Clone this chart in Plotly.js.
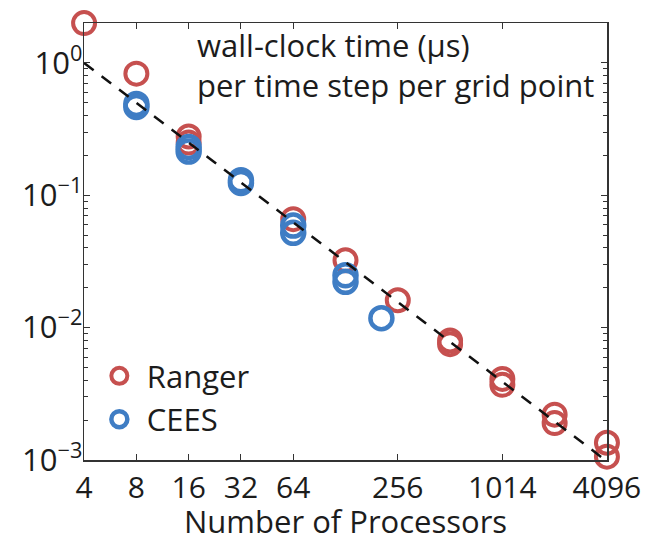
<!DOCTYPE html>
<html>
<head>
<meta charset="utf-8">
<script src="https://cdn.plot.ly/plotly-3.0.1.min.js"></script>
<style>
  html, body { margin: 0; padding: 0; background: #fff; }
  #chart { width: 649px; height: 535px; }
</style>
</head>
<body>
<div id="chart"></div>
<script>
// Strong-scaling timings: wall-clock time per time step per grid point
const rangerProcs = [4, 8, 16, 16, 64, 128, 256, 512, 512, 1024, 1024, 2048, 2048, 4096, 4096];
const rangerTime  = [2.0, 0.83, 0.278, 0.25, 0.066, 0.0323, 0.0161, 0.0080, 0.0075, 0.0041, 0.0037, 0.0022, 0.0019, 0.00135, 0.00106];

const ceesProcs = [8, 8, 16, 16, 32, 32, 64, 64, 128, 128, 206];
const ceesTime  = [0.49, 0.465, 0.232, 0.214, 0.13, 0.124, 0.059, 0.052, 0.0249, 0.0222, 0.0118];

// Ideal linear scaling reference
const idealProcs = [4, 4096];
const idealTime  = [1.0, 0.000977];

const xTickVals = [4, 8, 16, 32, 64, 256, 1024, 4096];
const xTickText = ['4', '8', '16', '32', '64', '256', '1014', '4096'];
const xPlainTicks = [128, 512, 2048];
const yTickVals = [0.001, 0.01, 0.1, 1];
const yTickText = ['10<sup>\u22123</sup>', '10<sup>\u22122</sup>', '10<sup>\u22121</sup>', '10<sup>0</sup>'];

const RED = '#C6504F';
const BLUE = '#3F7DC4';
const FONT = '"Open Sans", "Noto Sans", sans-serif';
const INK = '#1c1c1c';

const traces = [
  {
    x: rangerProcs, y: rangerTime, name: 'Ranger',
    type: 'scatter', mode: 'markers', cliponaxis: false,
    marker: { symbol: 'circle-open', size: 22, color: RED, line: { width: 4, color: RED } }
  },
  {
    x: ceesProcs, y: ceesTime, name: 'CEES',
    type: 'scatter', mode: 'markers', cliponaxis: false,
    marker: { symbol: 'circle-open', size: 22, color: BLUE, line: { width: 4.5, color: BLUE } }
  },
  {
    x: idealProcs, y: idealTime, name: 'ideal', showlegend: false,
    type: 'scatter', mode: 'lines', cliponaxis: false,
    line: { color: '#111', width: 2.5, dash: '12px,10px' }
  }
];

const xRange = [Math.log10(3.995), Math.log10(4100)];

const axisCommon = {
  type: 'log',
  showgrid: false,
  zeroline: false,
  showline: true,
  linecolor: '#333',
  linewidth: 1.5,
  mirror: 'ticks',
  ticks: 'inside',
  ticklen: 6,
  tickwidth: 1,
  tickcolor: '#333',
  tickfont: { family: FONT, size: 30, color: INK }
};

const layout = {
  width: 649, height: 535,
  margin: { l: 84, r: 42, t: 23, b: 75 },
  paper_bgcolor: '#fff', plot_bgcolor: '#fff',
  font: { family: FONT, color: INK },
  showlegend: true,
  legend: {
    x: 0.015, y: 0.2535, xanchor: 'left', yanchor: 'top',
    bgcolor: 'rgba(0,0,0,0)', borderwidth: 0,
    font: { family: FONT, size: 31, color: INK },
    itemwidth: 45
  },
  xaxis: Object.assign({}, axisCommon, {
    range: xRange,
    tickmode: 'array', tickvals: xTickVals, ticktext: xTickText
  }),
  // unlabelled tick marks at the remaining powers of two
  xaxis2: Object.assign({}, axisCommon, {
    overlaying: 'x', anchor: 'y', side: 'bottom',
    range: xRange, showline: false,
    tickmode: 'array', tickvals: xPlainTicks, showticklabels: false
  }),
  yaxis: Object.assign({}, axisCommon, {
    range: [-3, 0.3016],
    ticklabelstandoff: -6,
    tickfont: { family: FONT, size: 31, color: INK },
    tickmode: 'array', tickvals: yTickVals, ticktext: yTickText,
    minor: { ticks: 'inside', ticklen: 4, tickwidth: 1, tickcolor: '#333', dtick: 'D1', showgrid: false }
  }),
  annotations: [
    {
      xref: 'paper', yref: 'paper', x: 0.212, y: 0.9497, xanchor: 'left', yanchor: 'middle',
      showarrow: false, text: 'wall-clock time (\u00b5s)',
      font: { family: FONT, size: 31, color: INK }
    },
    {
      xref: 'paper', yref: 'paper', x: 0.212, y: 0.858, xanchor: 'left', yanchor: 'middle',
      showarrow: false, text: 'per time step per grid point',
      font: { family: FONT, size: 31, color: INK }
    },
    // x-axis title
    {
      xref: 'paper', yref: 'paper', x: 0.5, y: -0.139, xanchor: 'center', yanchor: 'middle',
      showarrow: false, text: 'Number of Processors',
      font: { family: FONT, size: 31, color: INK }
    }
  ]
};

Plotly.newPlot('chart', traces, layout, { staticPlot: true });
</script>
</body>
</html>
